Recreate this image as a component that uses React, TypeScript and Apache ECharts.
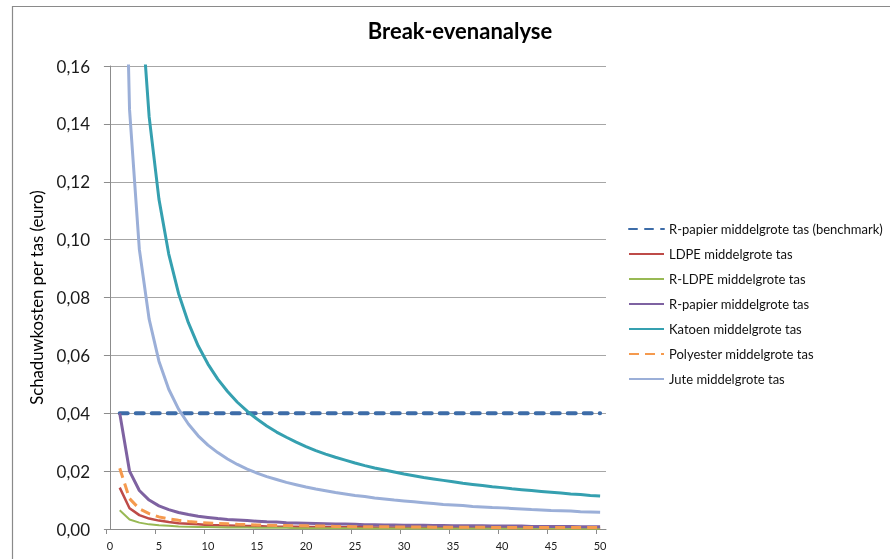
import React, { useEffect, useRef } from "react";
import * as echarts from "echarts";

const uses: number[] = Array.from({ length: 50 }, (_, i) => i + 1);

const benchmark: number[] = [
  0.04, 0.04, 0.04, 0.04, 0.04, 0.04, 0.04, 0.04, 0.04, 0.04,
  0.04, 0.04, 0.04, 0.04, 0.04, 0.04, 0.04, 0.04, 0.04, 0.04,
  0.04, 0.04, 0.04, 0.04, 0.04, 0.04, 0.04, 0.04, 0.04, 0.04,
  0.04, 0.04, 0.04, 0.04, 0.04, 0.04, 0.04, 0.04, 0.04, 0.04,
  0.04, 0.04, 0.04, 0.04, 0.04, 0.04, 0.04, 0.04, 0.04, 0.04,
];

const ldpe: number[] = [
  0.0143, 0.0072, 0.0048, 0.0036, 0.0029, 0.0024, 0.002, 0.0018, 0.0016, 0.0014,
  0.0013, 0.0012, 0.0011, 0.001, 0.001, 0.0009, 0.0008, 0.0008, 0.0008, 0.0007,
  0.0007, 0.0007, 0.0006, 0.0006, 0.0006, 0.0006, 0.0005, 0.0005, 0.0005, 0.0005,
  0.0005, 0.0004, 0.0004, 0.0004, 0.0004, 0.0004, 0.0004, 0.0004, 0.0004, 0.0004,
  0.0003, 0.0003, 0.0003, 0.0003, 0.0003, 0.0003, 0.0003, 0.0003, 0.0003, 0.0003,
];

const rLdpe: number[] = [
  0.0065, 0.0033, 0.0022, 0.0016, 0.0013, 0.0011, 0.0009, 0.0008, 0.0007, 0.0007,
  0.0006, 0.0005, 0.0005, 0.0005, 0.0004, 0.0004, 0.0004, 0.0004, 0.0003, 0.0003,
  0.0003, 0.0003, 0.0003, 0.0003, 0.0003, 0.0002, 0.0002, 0.0002, 0.0002, 0.0002,
  0.0002, 0.0002, 0.0002, 0.0002, 0.0002, 0.0002, 0.0002, 0.0002, 0.0002, 0.0002,
  0.0002, 0.0002, 0.0002, 0.0002, 0.0002, 0.0001, 0.0001, 0.0001, 0.0001, 0.0001,
];

const rPapier: number[] = [
  0.04, 0.02, 0.0133, 0.01, 0.008, 0.0067, 0.0057, 0.005, 0.0044, 0.004,
  0.0036, 0.0033, 0.0031, 0.0029, 0.0027, 0.0025, 0.0024, 0.0022, 0.0021, 0.002,
  0.0019, 0.0018, 0.0017, 0.0017, 0.0016, 0.0015, 0.0015, 0.0014, 0.0014, 0.0013,
  0.0013, 0.0013, 0.0012, 0.0012, 0.0011, 0.0011, 0.0011, 0.0011, 0.001, 0.001,
  0.001, 0.001, 0.0009, 0.0009, 0.0009, 0.0009, 0.0009, 0.0008, 0.0008, 0.0008,
];

const katoen: number[] = [
  0.57, 0.285, 0.19, 0.1425, 0.114, 0.095, 0.0814, 0.0713, 0.0633, 0.057,
  0.0518, 0.0475, 0.0438, 0.0407, 0.038, 0.0356, 0.0335, 0.0317, 0.03, 0.0285,
  0.0271, 0.0259, 0.0248, 0.0238, 0.0228, 0.0219, 0.0211, 0.0204, 0.0197, 0.019,
  0.0184, 0.0178, 0.0173, 0.0168, 0.0163, 0.0158, 0.0154, 0.015, 0.0146, 0.0143,
  0.0139, 0.0136, 0.0133, 0.013, 0.0127, 0.0124, 0.0121, 0.0119, 0.0116, 0.0114,
];

const polyester: number[] = [
  0.021, 0.0105, 0.007, 0.0053, 0.0042, 0.0035, 0.003, 0.0026, 0.0023, 0.0021,
  0.0019, 0.0018, 0.0016, 0.0015, 0.0014, 0.0013, 0.0012, 0.0012, 0.0011, 0.0011,
  0.001, 0.001, 0.0009, 0.0009, 0.0008, 0.0008, 0.0008, 0.0008, 0.0007, 0.0007,
  0.0007, 0.0007, 0.0006, 0.0006, 0.0006, 0.0006, 0.0006, 0.0006, 0.0005, 0.0005,
  0.0005, 0.0005, 0.0005, 0.0005, 0.0005, 0.0005, 0.0005, 0.0005, 0.0005, 0.0005,
];

const jute: number[] = [
  0.29, 0.145, 0.0967, 0.0725, 0.058, 0.0483, 0.0414, 0.0363, 0.0322, 0.029,
  0.0264, 0.0242, 0.0223, 0.0207, 0.0193, 0.0181, 0.0171, 0.0161, 0.0153, 0.0145,
  0.0138, 0.0132, 0.0126, 0.0121, 0.0116, 0.0112, 0.0107, 0.0104, 0.01, 0.0097,
  0.0094, 0.0091, 0.0088, 0.0085, 0.0083, 0.0081, 0.0078, 0.0076, 0.0074, 0.0073,
  0.0071, 0.0069, 0.0067, 0.0066, 0.0064, 0.0063, 0.0062, 0.006, 0.0059, 0.0058,
];

const xLabelValues: number[] = [0, 5, 10, 15, 20, 25, 30, 35, 40, 45, 50];
const xTickValues: number[] = [-0.4, 4.6, 9.6, 14.6, 19.6, 24.6, 29.6, 34.6, 39.6, 44.6, 49.6];

const seriesNames: string[] = [
  "R-papier middelgrote tas (benchmark)",
  "LDPE middelgrote tas",
  "R-LDPE middelgrote tas",
  "R-papier middelgrote tas",
  "Katoen middelgrote tas",
  "Polyester middelgrote tas",
  "Jute middelgrote tas",
];

const FONT = "Lato, 'Open Sans', sans-serif";

export default function App() {
  const ref = useRef<HTMLDivElement>(null);

  useEffect(() => {
    if (!ref.current) return;
    const chart = echarts.init(ref.current, undefined, { renderer: "svg" });
    const pair = (arr: number[]) => arr.map((v, i) => [uses[i], v]);

    const mk = (
      name: string,
      data: number[],
      color: string,
      width: number,
      type: any = "solid",
      cap: any = "butt"
    ) => ({
      name,
      type: "line",
      data: pair(data),
      symbol: "none",
      clip: true,
      color,
      lineStyle: { color, width, type, cap, join: "round" },
      emphasis: { disabled: true },
    });

    chart.setOption({
      animation: false,
      textStyle: { fontFamily: FONT },
      title: {
        text: "Break-evenanalyse",
        left: 455,
        top: 14,
        textAlign: "center",
        textStyle: { fontFamily: FONT, fontSize: 22, fontWeight: "bold", color: "#000" },
      },
      graphic: [
        { type: "line", shape: { x1: 12, y1: 6.5, x2: 890, y2: 6.5 }, style: { stroke: "#8a8a8a", lineWidth: 1.2 } },
        { type: "line", shape: { x1: 12.5, y1: 6, x2: 12.5, y2: 559 }, style: { stroke: "#8a8a8a", lineWidth: 1.2 } },
      ],
      legend: {
        orient: "vertical",
        left: 628,
        top: 222,
        padding: 0,
        itemWidth: 35,
        itemHeight: 14,
        itemGap: 11,
        data: seriesNames,
        itemStyle: { opacity: 0 },
        textStyle: { fontFamily: FONT, fontSize: 13, color: "#111", lineHeight: 14 },
      },
      grid: { left: 106, right: 284, top: 66, bottom: 30, containLabel: false },
      xAxis: {
        type: "value",
        min: -0.4,
        max: 50.6,
        splitLine: { show: false },
        axisLine: { show: true, lineStyle: { color: "#8c8c8c", width: 1 } },
        axisTick: { show: true, length: 5, customValues: xTickValues, lineStyle: { color: "#8c8c8c" } },
        axisLabel: {
          customValues: xLabelValues,
          fontSize: 11,
          color: "#222",
          margin: 11,
          fontFamily: FONT,
        },
      },
      yAxis: {
        type: "value",
        min: 0,
        max: 0.16,
        interval: 0.02,
        name: "Schaduwkosten per tas (euro)",
        nameLocation: "middle",
        nameGap: 54,
        nameRotate: 90,
        nameTextStyle: { fontFamily: FONT, fontSize: 16.7, color: "#000" },
        axisLine: { show: true, lineStyle: { color: "#8c8c8c", width: 1 } },
        axisTick: { show: true, length: 6, lineStyle: { color: "#8c8c8c" } },
        splitLine: { show: true, lineStyle: { color: "#a6a6a6", width: 1 } },
        axisLabel: {
          fontSize: 17,
          color: "#1a1a1a",
          margin: 16,
          fontFamily: FONT,
          formatter: (v: number) => v.toFixed(2).replace(".", ","),
        },
      },
      series: [
        mk(seriesNames[0], benchmark, "#3d6ca8", 4, [8, 8], "round"),
        mk(seriesNames[1], ldpe, "#be4b48", 2.5),
        mk(seriesNames[2], rLdpe, "#98b954", 2),
        mk(seriesNames[3], rPapier, "#7e62a1", 3),
        mk(seriesNames[4], katoen, "#35a0b0", 3),
        mk(seriesNames[5], polyester, "#f59a4e", 3, [10, 6]),
        mk(seriesNames[6], jute, "#9bafd8", 3),
      ],
    });

    return () => chart.dispose();
  }, []);

  return (
    <div
      ref={ref}
      style={{ position: "fixed", left: 0, top: 0, width: 890, height: 559 }}
    />
  );
}
